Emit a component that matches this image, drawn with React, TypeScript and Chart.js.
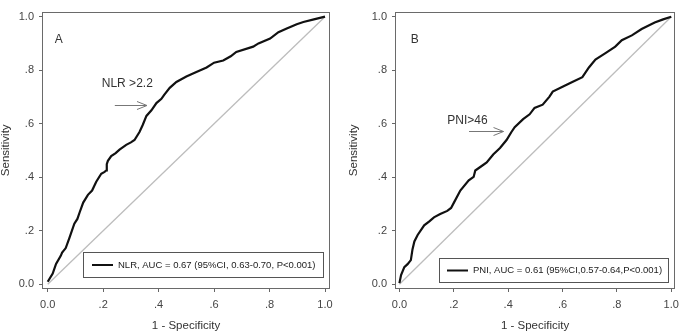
import React, { useEffect, useRef } from "react";
import { Chart, registerables } from "chart.js";
Chart.register(...registerables);

const TICK_VALUES = [0, 0.2, 0.4, 0.6, 0.8, 1.0];
const TICK_LABELS = ["0.0", ".2", ".4", ".6", ".8", "1.0"];
const X_TITLE = "1 - Specificity";
const Y_TITLE = "Sensitivity";
const REF_X = [0, 1];
const REF_Y = [0, 1];

const NLR_FPR = [0.000, 0.018, 0.030, 0.047, 0.052, 0.065, 0.078, 0.096, 0.107, 0.115, 0.128, 0.145, 0.160, 0.175, 0.193, 0.205, 0.211, 0.213, 0.217, 0.229, 0.245, 0.259, 0.283, 0.300, 0.313, 0.331, 0.343, 0.356, 0.374, 0.392, 0.410, 0.420, 0.440, 0.464, 0.500, 0.530, 0.573, 0.600, 0.633, 0.660, 0.680, 0.741, 0.760, 0.802, 0.832, 0.860, 0.898, 0.922, 0.960, 1.000];
const NLR_TPR = [0.009, 0.040, 0.076, 0.106, 0.118, 0.135, 0.172, 0.226, 0.244, 0.268, 0.305, 0.334, 0.350, 0.383, 0.413, 0.420, 0.425, 0.449, 0.461, 0.479, 0.490, 0.503, 0.521, 0.530, 0.539, 0.569, 0.596, 0.629, 0.650, 0.677, 0.693, 0.708, 0.734, 0.756, 0.776, 0.790, 0.810, 0.828, 0.836, 0.852, 0.868, 0.888, 0.900, 0.918, 0.942, 0.955, 0.972, 0.980, 0.990, 1.000];

const PNI_FPR = [0.000, 0.006, 0.018, 0.030, 0.042, 0.048, 0.055, 0.067, 0.091, 0.110, 0.127, 0.150, 0.176, 0.190, 0.200, 0.224, 0.255, 0.273, 0.279, 0.300, 0.321, 0.345, 0.370, 0.394, 0.412, 0.424, 0.455, 0.479, 0.497, 0.527, 0.552, 0.564, 0.600, 0.636, 0.673, 0.697, 0.721, 0.758, 0.794, 0.818, 0.855, 0.891, 0.939, 0.970, 1.000];
const PNI_TPR = [0.004, 0.034, 0.064, 0.075, 0.090, 0.130, 0.160, 0.184, 0.220, 0.235, 0.250, 0.262, 0.274, 0.285, 0.304, 0.350, 0.388, 0.401, 0.425, 0.440, 0.455, 0.485, 0.509, 0.539, 0.569, 0.587, 0.617, 0.635, 0.659, 0.671, 0.701, 0.720, 0.738, 0.756, 0.774, 0.810, 0.840, 0.864, 0.888, 0.912, 0.930, 0.954, 0.978, 0.990, 1.000];

const NLR_LABEL = "NLR, AUC = 0.67 (95%CI, 0.63-0.70, P<0.001)";
const PNI_LABEL = "PNI, AUC = 0.61 (95%CI,0.57-0.64,P<0.001)";
const PANEL_LETTERS = ["A", "B"];
const CUTOFF_LABELS = ["NLR >2.2", "PNI>46"];

const FONT = '"Liberation Sans", Arial, Helvetica, sans-serif';

type Panel = {
  left: number; width: number; yAxisWidth: number; rightPad: number;
  xMin: number; xMax: number; yTitlePad: number;
  fpr: number[]; tpr: number[]; label: string; letter: string; cutoff: string;
  letterPos: [number, number]; cutoffPos: [number, number]; arrow: [number, number, number];
  legend: { x: number; y: number; w: number; h: number; l0: number; l1: number; tx: number };
};

const PANELS: Panel[] = [
  {
    left: 0, width: 345, yAxisWidth: 42, rightPad: 15, xMin: -0.0206, xMax: 1.018, yTitlePad: 0,
    fpr: NLR_FPR, tpr: NLR_TPR, label: NLR_LABEL, letter: PANEL_LETTERS[0], cutoff: CUTOFF_LABELS[0],
    letterPos: [0.040, 0.915], cutoffPos: [0.195, 0.749], arrow: [0.242, 0.358, 0.669],
    legend: { x: 83, y: 252, w: 240, h: 25, l0: 92, l1: 113, tx: 118 },
  },
  {
    left: 345, width: 340, yAxisWidth: 50, rightPad: 6, xMin: -0.0163, xMax: 1.0145, yTitlePad: 3,
    fpr: PNI_FPR, tpr: PNI_TPR, label: PNI_LABEL, letter: PANEL_LETTERS[1], cutoff: CUTOFF_LABELS[1],
    letterPos: [0.056, 0.915], cutoffPos: [0.176, 0.611], arrow: [0.256, 0.383, 0.571],
    legend: { x: 94, y: 258, w: 229, h: 24, l0: 102, l1: 123, tx: 128 },
  },
];

function makeDecor(p: Panel) {
  return {
    id: "decor",
    afterDraw(chart: any) {
      const ctx = chart.ctx;
      const a = chart.chartArea;
      const xs = chart.scales.x;
      const ys = chart.scales.y;
      ctx.save();
      // frame
      ctx.strokeStyle = "#6a6a6a";
      ctx.lineWidth = 1;
      ctx.strokeRect(Math.round(a.left) + 0.5, Math.round(a.top) + 0.5, Math.round(a.right - a.left) - 1, Math.round(a.bottom - a.top) - 1);
      // letter
      ctx.fillStyle = "#333";
      ctx.font = `12px ${FONT}`;
      ctx.textAlign = "center";
      ctx.textBaseline = "middle";
      ctx.fillText(p.letter, xs.getPixelForValue(p.letterPos[0]), ys.getPixelForValue(p.letterPos[1]));
      // cutoff label
      ctx.textAlign = "left";
      ctx.fillText(p.cutoff, xs.getPixelForValue(p.cutoffPos[0]), ys.getPixelForValue(p.cutoffPos[1]));
      // arrow
      const x0 = xs.getPixelForValue(p.arrow[0]);
      const x1 = xs.getPixelForValue(p.arrow[1]);
      const ay = Math.round(ys.getPixelForValue(p.arrow[2])) + 0.5;
      ctx.strokeStyle = "#777";
      ctx.lineWidth = 1;
      ctx.beginPath();
      ctx.moveTo(x0, ay);
      ctx.lineTo(x1, ay);
      ctx.moveTo(x1 - 10, ay - 4);
      ctx.lineTo(x1, ay);
      ctx.lineTo(x1 - 10, ay + 4);
      ctx.stroke();
      // legend
      const L = p.legend;
      ctx.fillStyle = "#fff";
      ctx.fillRect(L.x, L.y, L.w, L.h);
      ctx.strokeStyle = "#555";
      ctx.lineWidth = 1;
      ctx.strokeRect(L.x + 0.5, L.y + 0.5, L.w, L.h);
      const ly = L.y + L.h / 2 + 0.5;
      ctx.strokeStyle = "#111";
      ctx.lineWidth = 2;
      ctx.beginPath();
      ctx.moveTo(L.l0, ly);
      ctx.lineTo(L.l1, ly);
      ctx.stroke();
      ctx.fillStyle = "#222";
      ctx.font = `9.5px ${FONT}`;
      ctx.textAlign = "left";
      ctx.textBaseline = "middle";
      ctx.fillText(p.label, L.tx, ly);
      ctx.restore();
    },
  };
}

function RocPanel({ p }: { p: Panel }) {
  const ref = useRef<HTMLCanvasElement | null>(null);
  useEffect(() => {
    if (!ref.current) return;
    const tickFont = { family: FONT, size: 11 };
    const chart = new Chart(ref.current, {
      type: "scatter",
      data: {
        datasets: [
          {
            label: p.label,
            data: p.fpr.map((x, i) => ({ x, y: p.tpr[i] })),
            showLine: true,
            borderColor: "#111",
            borderWidth: 2.2,
            pointRadius: 0,
            tension: 0,
          },
          {
            label: "reference",
            data: REF_X.map((x, i) => ({ x, y: REF_Y[i] })),
            showLine: true,
            borderColor: "#bdbdbd",
            borderWidth: 1.3,
            pointRadius: 0,
          },
        ],
      },
      options: {
        animation: false,
        responsive: false,
        layout: { padding: { top: 2, right: p.rightPad, left: 0, bottom: 0 } },
        plugins: { legend: { display: false }, tooltip: { enabled: false } },
        scales: {
          x: {
            type: "linear",
            min: p.xMin,
            max: p.xMax,
            afterBuildTicks: (s: any) => { s.ticks = TICK_VALUES.map((v) => ({ value: v })); },
            afterFit: (s: any) => { s.height = 45; },
            ticks: {
              callback: (_v: any, i: number) => TICK_LABELS[i],
              font: tickFont, color: "#444", padding: 6, maxRotation: 0, autoSkip: false,
            },
            grid: { drawOnChartArea: false, drawTicks: true, tickLength: 3, color: "#666" },
            border: { display: false },
            title: { display: true, text: X_TITLE, font: { family: FONT, size: 11.5, lineHeight: 1.2 }, color: "#333", padding: { top: 0, bottom: 1 } },
          },
          y: {
            type: "linear",
            min: -0.018,
            max: 1.019,
            afterBuildTicks: (s: any) => { s.ticks = TICK_VALUES.map((v) => ({ value: v })); },
            afterFit: (s: any) => { s.width = p.yAxisWidth; },
            ticks: {
              callback: (_v: any, i: number) => TICK_LABELS[i],
              font: tickFont, color: "#444", padding: 5, autoSkip: false,
            },
            grid: { drawOnChartArea: false, drawTicks: true, tickLength: 3, color: "#666" },
            border: { display: false },
            title: { display: true, text: Y_TITLE, font: { family: FONT, size: 11.5, lineHeight: 1 }, color: "#333", padding: { top: p.yTitlePad, bottom: 0 } },
          },
        },
      },
      plugins: [makeDecor(p)],
    } as any);
    return () => chart.destroy();
  }, [p]);
  return (
    <canvas
      ref={ref}
      width={p.width}
      height={334}
      style={{ position: "absolute", left: p.left, top: 0, width: p.width, height: 334 }}
    />
  );
}

export default function App() {
  return (
    <div style={{ position: "fixed", left: 0, top: 0, width: 685, height: 334, background: "#fff", overflow: "hidden" }}>
      {PANELS.map((p, i) => (
        <RocPanel key={i} p={p} />
      ))}
    </div>
  );
}
